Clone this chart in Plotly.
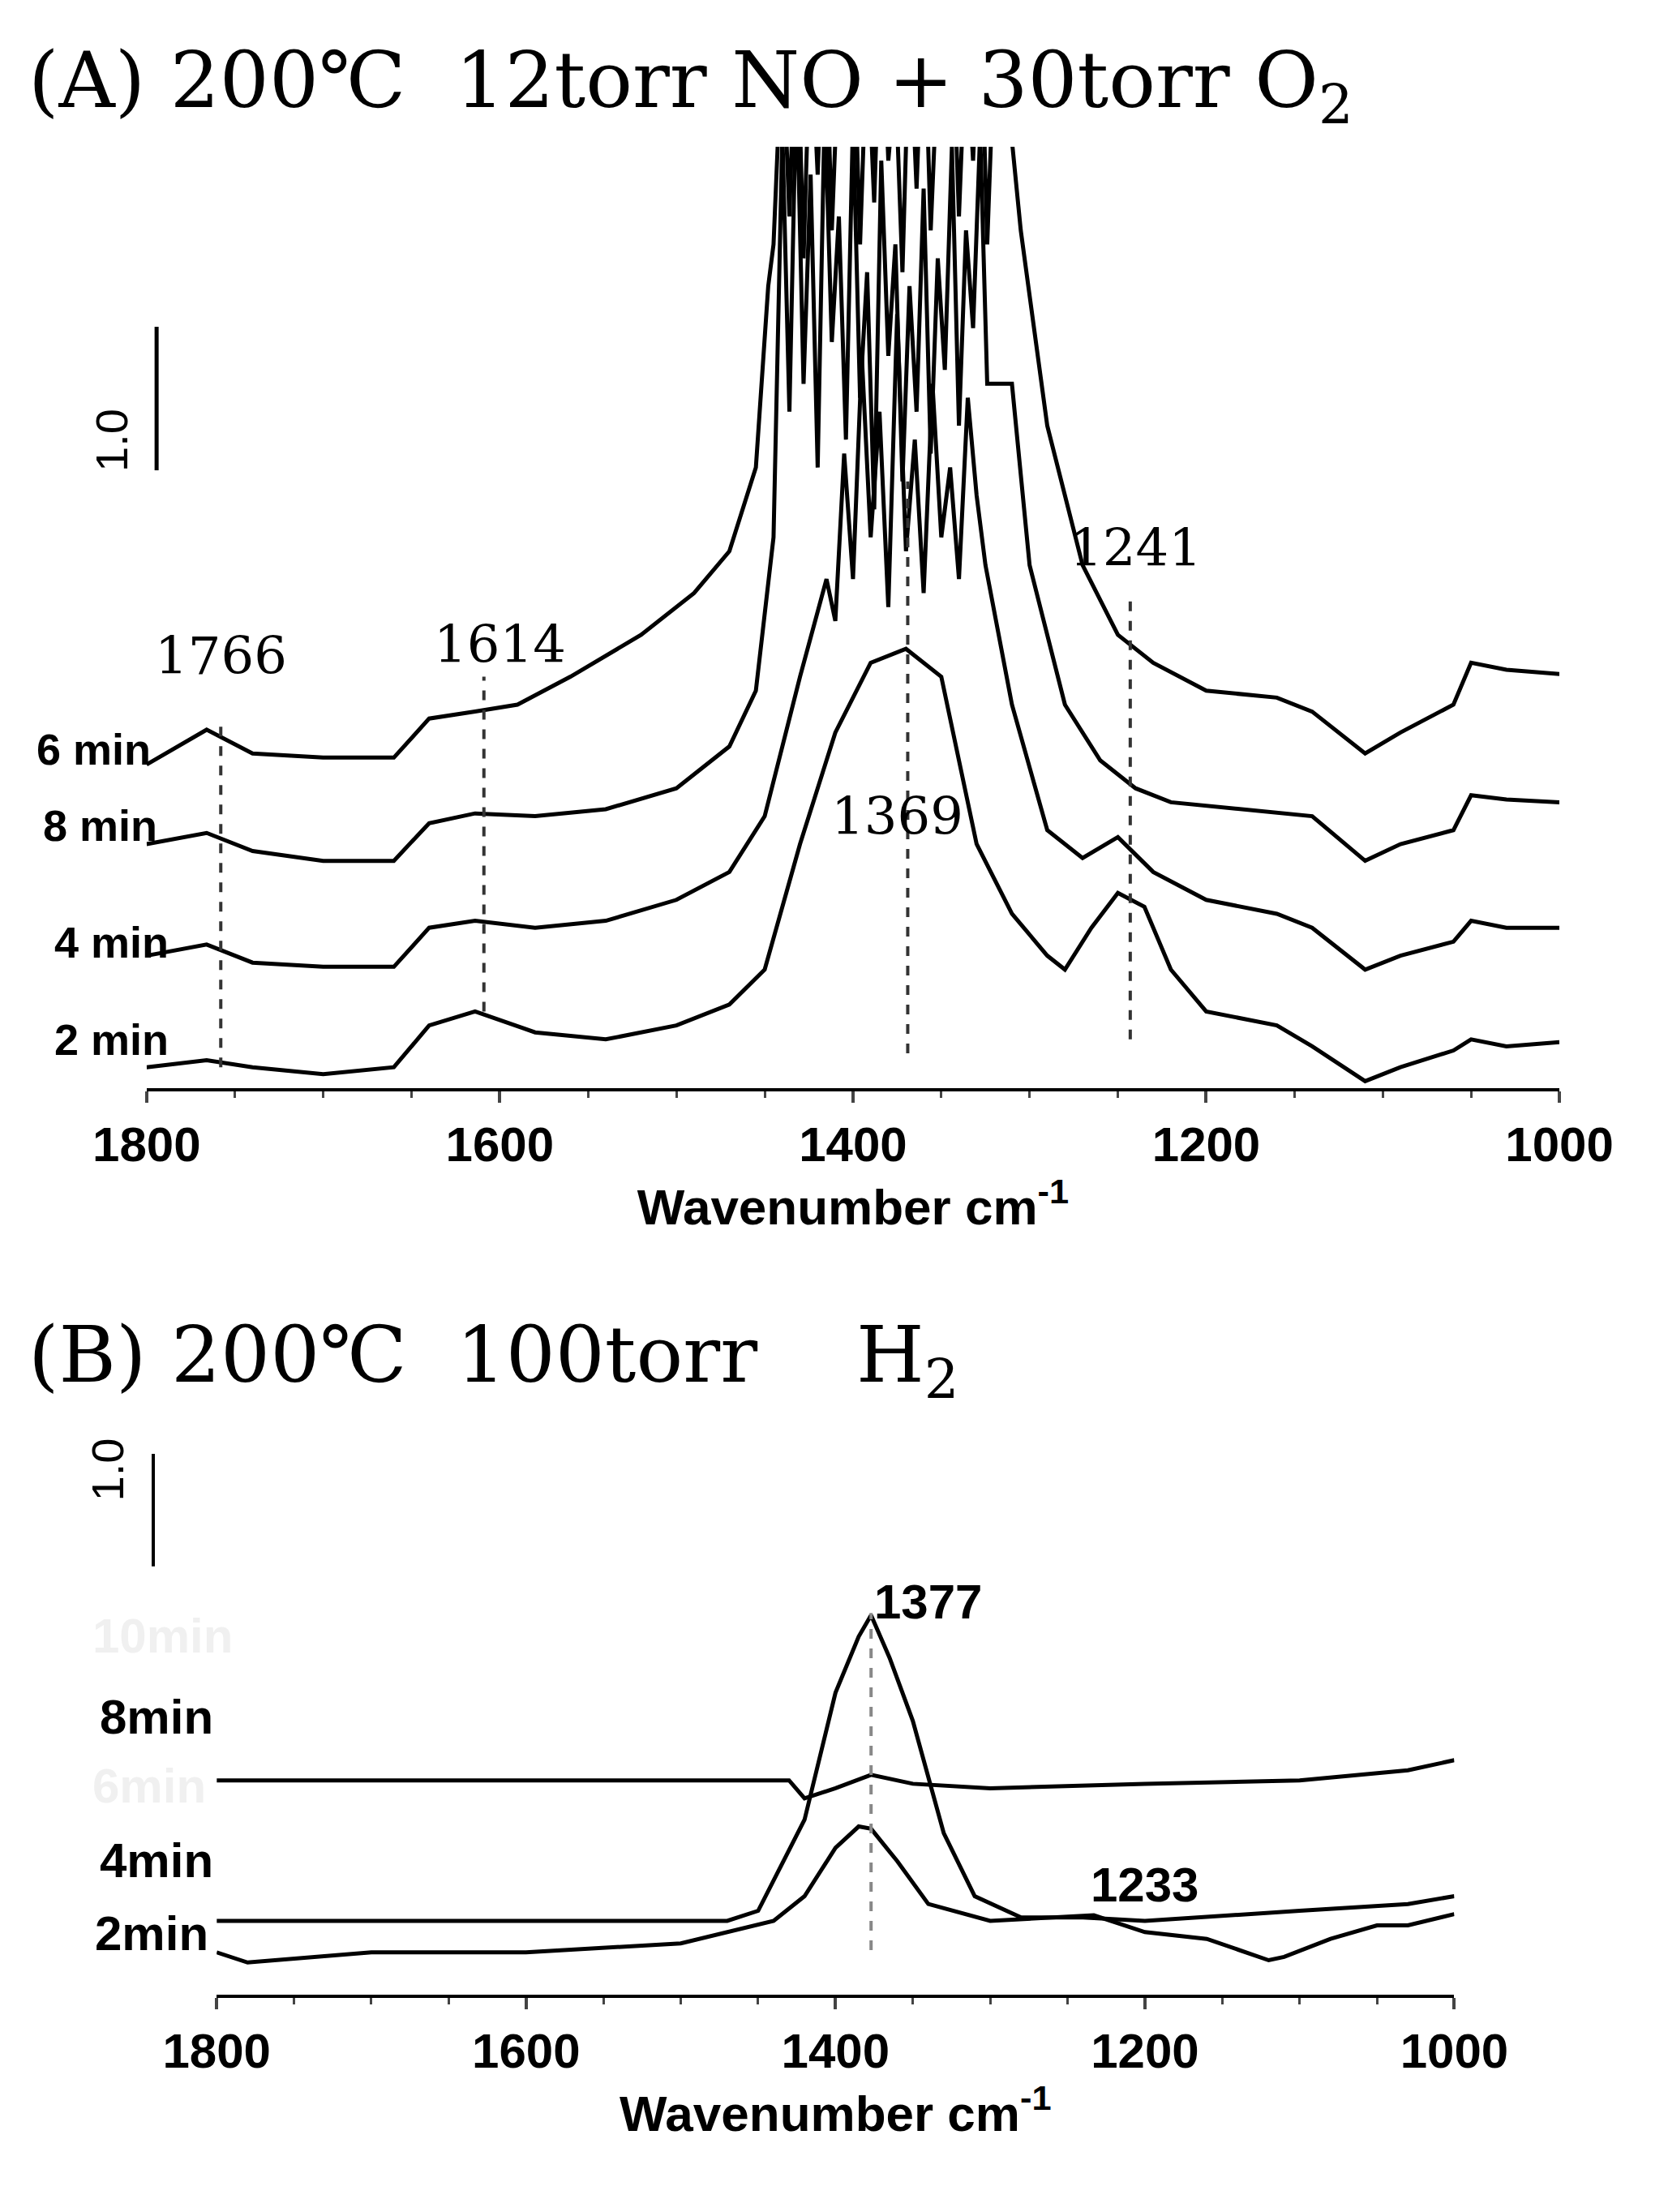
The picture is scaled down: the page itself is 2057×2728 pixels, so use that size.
import plotly.graph_objects as go

# ---- Panel A data (wavenumber, absorbance) ----
wA = [1800,1766,1740,1700,1660,1640,1614,1590,1560,1520,1490,1470,1455,1448]
a6_left = [2.27,2.52,2.35,2.32,2.32,2.60,2.65,2.70,2.90,3.20,3.50,3.80,4.40,5.70]
wA_r = [1305,1290,1270,1250,1230,1200,1160,1140,1110,1090,1060,1050,1030,1000]
a6_right = [6.10,4.70,3.70,3.20,3.00,2.80,2.75,2.65,2.35,2.50,2.70,3.00,2.95,2.92]
w_noise = [1445,1440,1436,1432,1428,1424,1420,1416,1412,1408,1404,1400,1396,1392,1388,1384,1380,1376,1372,1368,1364,1360,1356,1352,1348,1344,1340,1336,1332,1328,1324,1320,1316,1312]
a6_noise = [6.0,7.5,6.2,7.8,5.9,7.6,6.5,7.9,6.1,7.4,6.8,7.7,6.0,7.5,6.3,7.9,6.6,7.2,5.8,7.6,6.4,7.8,6.1,7.3,6.9,7.7,6.2,7.5,6.6,7.9,6.0,7.4,6.8,7.0]

a8_left = [1.70,1.78,1.65,1.58,1.58,1.85,1.92,1.90,1.95,2.10,2.40,2.80,3.90]
w8_left = [1800,1766,1740,1700,1660,1640,1614,1580,1540,1500,1470,1455,1445]
a8_noise = [4.2,6.8,4.8,7.2,5.0,6.5,4.4,7.0,5.3,6.2,4.6,6.9,4.9,5.8,4.1,6.6,5.2,6.0,4.3,5.7,4.8,6.4,4.5,5.9,5.1,6.7,4.7,6.1,5.4,6.8,5.0,6.2,5.8,6.0]
w8_right = [1310,1300,1280,1260,1240,1220,1180,1140,1110,1090,1060,1050,1030,1000]
a8_right = [5.0,3.70,2.70,2.30,2.10,2.00,1.95,1.90,1.58,1.70,1.80,2.05,2.02,2.00]

w4_left = [1800,1766,1740,1700,1660,1640,1614,1580,1540,1500,1470,1450,1430,1415]
a4_left = [0.90,0.98,0.85,0.82,0.82,1.10,1.15,1.10,1.15,1.30,1.50,1.90,2.90,3.60]
w4_noise = [1410,1405,1400,1395,1390,1385,1380,1375,1370,1365,1360,1355,1350,1345,1340,1335,1330]
a4_noise = [3.3,4.5,3.6,5.2,3.9,4.8,3.4,5.5,3.8,4.6,3.5,5.0,3.9,4.4,3.6,4.9,4.2]
w4_right = [1325,1310,1290,1270,1250,1230,1200,1160,1140,1110,1090,1060,1050,1030,1000]
a4_right = [3.70,2.70,1.80,1.60,1.75,1.50,1.30,1.20,1.10,0.80,0.90,1.00,1.15,1.10,1.10]

w2 = [1800,1766,1740,1700,1660,1640,1614,1580,1540,1500,1470,1450,1430,1410,1390,1370,1350,1330,1310,1290,1280,1265,1250,1235,1220,1200,1160,1140,1110,1090,1060,1050,1030,1000]
a2 = [0.10,0.15,0.10,0.05,0.10,0.40,0.50,0.35,0.30,0.40,0.55,0.80,1.70,2.50,3.00,3.10,2.90,1.70,1.20,0.90,0.80,1.10,1.35,1.25,0.80,0.50,0.40,0.25,0.00,0.10,0.22,0.30,0.25,0.28]

# ---- Panel B data ----
wB8 = [1800,1600,1430,1420,1400,1377,1350,1300,1200,1100,1030,1000]
b8 = [1.91,1.91,1.91,1.75,1.84,1.96,1.88,1.84,1.88,1.91,2.00,2.09]
wB4 = [1800,1600,1470,1450,1420,1400,1385,1377,1365,1350,1330,1310,1280,1240,1200,1100,1030,1000]
b4 = [0.66,0.66,0.66,0.75,1.56,2.69,3.19,3.38,3.00,2.44,1.44,0.88,0.69,0.69,0.66,0.75,0.81,0.88]
wB2 = [1800,1780,1700,1600,1500,1470,1440,1420,1400,1385,1377,1360,1340,1300,1260,1233,1200,1160,1120,1110,1080,1050,1030,1000]
b2 = [0.38,0.29,0.38,0.38,0.46,0.56,0.66,0.88,1.31,1.50,1.48,1.19,0.81,0.66,0.69,0.71,0.56,0.50,0.31,0.34,0.50,0.62,0.62,0.72]

fig = go.Figure()
L = dict(color="black", width=5)

def add(ws, ys, ax):
    fig.add_trace(go.Scatter(x=ws, y=ys, mode="lines", line=L, showlegend=False,
                             xaxis="x" if ax == 1 else "x2", yaxis="y" if ax == 1 else "y2"))

add(wA + w_noise + wA_r, a6_left + a6_noise + a6_right, 1)
add(w8_left + w_noise[1:31] + w8_right, a8_left + a8_noise[1:31] + a8_right, 1)
add(w4_left + w4_noise + w4_right, a4_left + a4_noise + a4_right, 1)
add(w2, a2, 1)
add(wB8, b8, 2)
add(wB4, b4, 2)
add(wB2, b2, 2)

dash = dict(color="#333", width=4, dash="dash")
for w, y0, y1 in [(1758, 0.1, 2.55), (1609, 0.5, 2.9), (1369, 0.2, 4.3), (1243, 0.3, 3.5)]:
    fig.add_shape(type="line", x0=w, x1=w, y0=y0, y1=y1, xref="x", yref="y", line=dash)
fig.add_shape(type="line", x0=1377, x1=1377, y0=0.4, y1=3.4, xref="x2", yref="y2",
              line=dict(color="#888", width=4, dash="dash"))
# scale bars (paper coords)
fig.add_shape(type="line", x0=0.090, x1=0.090, y0=1-330*1.733/2728, y1=1-228*1.733/2728,
              xref="paper", yref="paper", line=dict(color="black", width=5))
fig.add_shape(type="line", x0=0.088, x1=0.088, y0=1-1110*1.733/2728, y1=1-1030*1.733/2728,
              xref="paper", yref="paper", line=dict(color="black", width=4))

ann = []
S = "Liberation Sans"
def t(x, y, s, size, xr="x", yr="y", col="black", fam="DejaVu Serif", ang=0, anc="center"):
    ann.append(dict(x=x, y=y, xref=xr, yref=yr, text=s, showarrow=False, textangle=ang,
                    font=dict(size=size, color=col, family=fam), xanchor=anc))
def p(xd, yd, s, size, col="black", fam=S, ang=0, anc="left"):
    # position given in reference display px
    t(xd*1.733/2057, 1-yd*1.733/2728, s, size, "paper", "paper", col, fam, ang, anc)

t(1758, 3.05, "1766", 64); t(1600, 3.13, "1614", 64); t(1240, 3.82, "1241", 64); t(1375, 1.90, "1369", 64)
p(20, 510, "<b>6 min</b>", 54); p(25, 583, "<b>8 min</b>", 54)
p(33, 666, "<b>4 min</b>", 54); p(33, 735, "<b>2 min</b>", 54)
p(75, 285, "1.0", 56, ang=-90, anc="center")
p(72, 1065, "1.0", 56, ang=-90, anc="center")
p(65, 1238, "<b>8min</b>", 60); p(65, 1340, "<b>4min</b>", 60); p(62, 1392, "<b>2min</b>", 60)
p(60, 1180, "<b>10min</b>", 60, col="#f0f0f0"); p(60, 1287, "<b>6min</b>", 60, col="#f0f0f0")
t(1340, 3.5, "<b>1377</b>", 60, xr="x2", yr="y2", fam=S)
t(1200, 0.98, "<b>1233</b>", 60, xr="x2", yr="y2", fam=S)
ann.append(dict(x=0.012, y=0.988, xref="paper", yref="paper", showarrow=False, xanchor="left", yanchor="top",
                text="(A) 200℃  12torr NO + 30torr O<sub>2</sub>", font=dict(size=96, family="DejaVu Serif", color="black")))
ann.append(dict(x=0.012, y=0.388, xref="paper", yref="paper", showarrow=False, xanchor="left",
                text="(B) 200℃  100torr    H<sub>2</sub>", font=dict(size=96, family="DejaVu Serif", color="black")))

xax = dict(range=[1800, 1000], showline=True, linecolor="black", linewidth=4, ticks="outside", automargin=False,
           tickwidth=4, ticklen=14, tickvals=[1800, 1600, 1400, 1200, 1000], showgrid=False, zeroline=False,
           tickfont=dict(size=60, family="Liberation Sans Narrow, Liberation Sans", color="black", weight="bold"),
           minor=dict(ticks="outside", ticklen=8, tickwidth=3, dtick=50),
           title=dict(text="<b>Wavenumber cm<sup>-1</sup></b>", font=dict(size=62, family="Liberation Sans", color="black"), standoff=0))
fig.update_layout(
    width=2057, height=2728, margin=dict(l=0, r=0, t=0, b=0), plot_bgcolor="white", paper_bgcolor="white",
    xaxis=dict(domain=[0.084, 0.931], anchor="y", **xax),
    yaxis=dict(domain=[0.511, 0.9366], range=[-0.05, 6.7], visible=False),
    xaxis2=dict(domain=[0.126, 0.868], anchor="y2", **xax),
    yaxis2=dict(domain=[0.101, 0.352], range=[0, 4.94], visible=False),
    annotations=ann)
fig.write_html("out.html")
